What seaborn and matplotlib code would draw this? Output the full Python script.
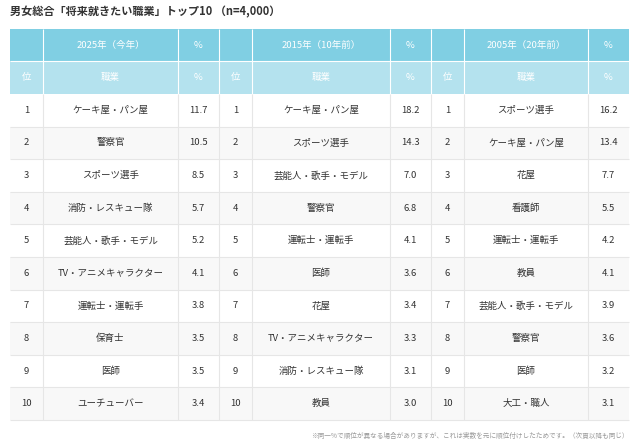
import matplotlib.pyplot as plt
import seaborn as sns
from matplotlib.patches import Rectangle

title = "男女総合「将来就きたい職業」トップ10 （n=4,000）"
periods = ["2025年（今年）", "2015年（10年前）", "2005年（20年前）"]
ranks = list(range(1, 11))
jobs_2025 = ["ケーキ屋・パン屋", "警察官", "スポーツ選手", "消防・レスキュー隊", "芸能人・歌手・モデル",
             "TV・アニメキャラクター", "運転士・運転手", "保育士", "医師", "ユーチューバー"]
pct_2025 = [11.7, 10.5, 8.5, 5.7, 5.2, 4.1, 3.8, 3.5, 3.5, 3.4]
jobs_2015 = ["ケーキ屋・パン屋", "スポーツ選手", "芸能人・歌手・モデル", "警察官", "運転士・運転手",
             "医師", "花屋", "TV・アニメキャラクター", "消防・レスキュー隊", "教員"]
pct_2015 = [18.2, 14.3, 7.0, 6.8, 4.1, 3.6, 3.4, 3.3, 3.1, 3.0]
jobs_2005 = ["スポーツ選手", "ケーキ屋・パン屋", "花屋", "看護師", "運転士・運転手",
             "教員", "芸能人・歌手・モデル", "警察官", "医師", "大工・職人"]
pct_2005 = [16.2, 13.4, 7.7, 5.5, 4.2, 4.1, 3.9, 3.6, 3.2, 3.1]
footnote = "※同一%で順位が異なる場合がありますが、これは実数を元に順位付けしたためです。（次頁以降も同じ）"

sns.set_theme(style="white")
plt.rcParams["font.family"] = ["Noto Sans CJK JP", "DejaVu Sans"]

fig = plt.figure(figsize=(6.4, 4.48), dpi=100)
ax = fig.add_axes([0, 0, 1, 1])
ax.set_xlim(0, 640)
ax.set_ylim(448, 0)
ax.axis("off")

dark, light, line, txt = "#80cfe3", "#b4e2ee", "#e6e6e6", "#333333"
cols = [10, 43, 178, 219, 252, 390, 431, 464, 588, 629]
top, h1, h2, bottom = 29, 61, 94, 420
nrow = len(ranks)
rh = (bottom - h2) / nrow

ax.text(10, 12, title, fontsize=8, fontweight="bold", color=txt, va="center")

ax.add_patch(Rectangle((cols[0], top), cols[-1] - cols[0], h1 - top, color=dark, lw=0))
ax.add_patch(Rectangle((cols[0], h1), cols[-1] - cols[0], h2 - h1, color=light, lw=0))
for i in range(nrow):
    if i % 2 == 1:
        ax.add_patch(Rectangle((cols[0], h2 + i * rh), cols[-1] - cols[0], rh, color="#f8f8f8", lw=0))
ax.hlines(h1, cols[0], cols[-1], color="white", lw=0.8)
for x in cols[1:-1]:
    ax.vlines(x, top, h2, color="white", lw=0.8)
    ax.vlines(x, h2, bottom, color=line, lw=0.8)
for i in range(1, nrow + 1):
    ax.hlines(h2 + i * rh, cols[0], cols[-1], color=line, lw=0.8)

tables = [(jobs_2025, pct_2025), (jobs_2015, pct_2015), (jobs_2005, pct_2005)]
for g, (jobs, pct) in enumerate(tables):
    c = cols[g * 3:g * 3 + 4]
    mids = [(c[k] + c[k + 1]) / 2 for k in range(3)]
    ax.text(mids[1], (top + h1) / 2, periods[g], color="white", fontsize=6.8, ha="center", va="center")
    ax.text(mids[2], (top + h1) / 2, "%", color="white", fontsize=6.8, ha="center", va="center")
    for k, s in enumerate(["位", "職業", "%"]):
        ax.text(mids[k], (h1 + h2) / 2, s, color="white", fontsize=6.8, ha="center", va="center")
    for i, r in enumerate(ranks):
        y = h2 + (i + 0.5) * rh
        ax.text(mids[0], y, str(r), color=txt, fontsize=6.8, ha="center", va="center")
        ax.text(mids[1], y, jobs[i], color=txt, fontsize=6.8, ha="center", va="center")
        ax.text(mids[2], y, f"{pct[i]:.1f}", color=txt, fontsize=6.8, ha="center", va="center")

ax.text(629, 436, footnote, color="#999999", fontsize=4.8, ha="right", va="center")

fig.savefig("out.png", dpi=100)
